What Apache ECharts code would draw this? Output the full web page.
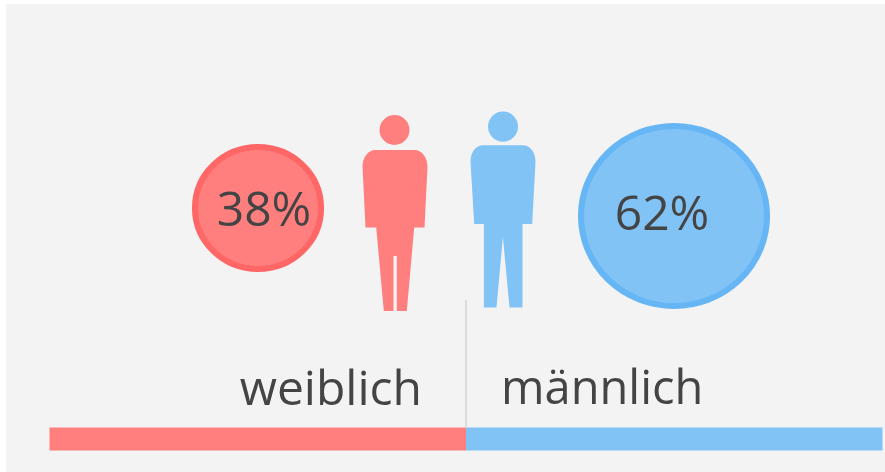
<!DOCTYPE html>
<html>
<head>
<meta charset="utf-8">
<script src="https://cdn.jsdelivr.net/npm/echarts@6/dist/echarts.min.js"></script>
<style>
html, body { margin: 0; padding: 0; background: #fff; }
#main { width: 885px; height: 472px; }
</style>
</head>
<body>
<div id="main"></div>
<script>
var categories = ['weiblich', 'männlich'];
var shares = [38, 62];
var barParts = [50, 50];

var fontName = '"Open Sans", sans-serif';
var fills = ['#ff7f7f', '#82c3f5'];
var borders = ['#ff6666', '#66b6f6'];
var circleSizes = [[126, 122], [186, 180]];
var circleOffsets = [[0, -4], [0, 4]];
var labelOffsets = [[6, 4], [-12, 0]];
var figurePaths = [
    'path://M17 15a15 15 0 1 0 30 0a15 15 0 1 0 -30 0ZM13 35H52C60 35 65 43 65 52L62 112.6H51.7L44.3 196H34.3V141H31V196H21.3L13.7 112.6H3L0 52C0 43 5 35 13 35Z',
    'path://M17.5 15.3a15 15 0 1 0 30 0a15 15 0 1 0 -30 0ZM13 33.7H52C60 33.7 65 41 65 50L61.7 112H52V194.7H39L32.4 124.7L26 194.7H13.4V112H3.7L0 50C0 41 5 33.7 13 33.7Z'
];
var figureOffsets = [[137, 1], [-171, -2.5]];

var chart = echarts.init(document.getElementById('main'));

chart.setOption({
    animation: false,
    graphic: [
        // heller Hintergrund und Trennlinie
        { type: 'rect', z: -10, shape: { x: 6, y: 4, width: 879, height: 468 }, style: { fill: '#f3f3f3' } },
        { type: 'line', z: 10, shape: { x1: 466, y1: 300, x2: 466, y2: 428 }, style: { stroke: '#dcdcdc', lineWidth: 2 } }
    ],
    grid: [
        { left: 50, width: 832, top: 112, height: 200 },
        { left: 49.5, width: 833, top: 427, height: 24 }
    ],
    xAxis: [
        { gridIndex: 0, type: 'category', data: categories, show: false },
        { gridIndex: 1, type: 'value', min: 0, max: 100, show: false }
    ],
    yAxis: [
        { gridIndex: 0, type: 'category', data: ['Anteil'], show: false },
        { gridIndex: 1, type: 'category', data: ['Anteil'], show: false }
    ],
    series: [
        {
            name: 'Anteil',
            type: 'scatter',
            xAxisIndex: 0,
            yAxisIndex: 0,
            data: shares.map(function (v, i) {
                return {
                    value: [i, 0, v],
                    symbolSize: circleSizes[i],
                    symbolOffset: circleOffsets[i],
                    itemStyle: { color: fills[i], borderColor: borders[i], borderWidth: 6, opacity: 1 },
                    label: {
                        show: true,
                        position: 'inside',
                        offset: labelOffsets[i],
                        formatter: v + '%',
                        fontFamily: fontName,
                        fontSize: 48,
                        color: '#444'
                    }
                };
            })
        },
        {
            name: 'Figur',
            type: 'scatter',
            xAxisIndex: 0,
            yAxisIndex: 0,
            data: shares.map(function (v, i) {
                return {
                    value: [i, 0],
                    symbol: figurePaths[i],
                    symbolKeepAspect: false,
                    symbolSize: [65, 196],
                    symbolOffset: figureOffsets[i],
                    itemStyle: { color: fills[i], opacity: 1 }
                };
            })
        },
        {
            name: categories[0],
            type: 'bar',
            stack: 'gesamt',
            xAxisIndex: 1,
            yAxisIndex: 1,
            barWidth: 23,
            data: [barParts[0]],
            itemStyle: { color: fills[0] },
            label: {
                show: true,
                position: 'insideRight',
                offset: [-39, -48],
                formatter: '{a}',
                fontFamily: fontName,
                fontSize: 48,
                color: '#444'
            }
        },
        {
            name: categories[1],
            type: 'bar',
            stack: 'gesamt',
            xAxisIndex: 1,
            yAxisIndex: 1,
            barWidth: 23,
            data: [barParts[1]],
            itemStyle: { color: fills[1] },
            label: {
                show: true,
                position: 'insideLeft',
                offset: [30, -48],
                formatter: '{a}',
                fontFamily: fontName,
                fontSize: 47,
                color: '#444'
            }
        }
    ]
});
</script>
</body>
</html>
